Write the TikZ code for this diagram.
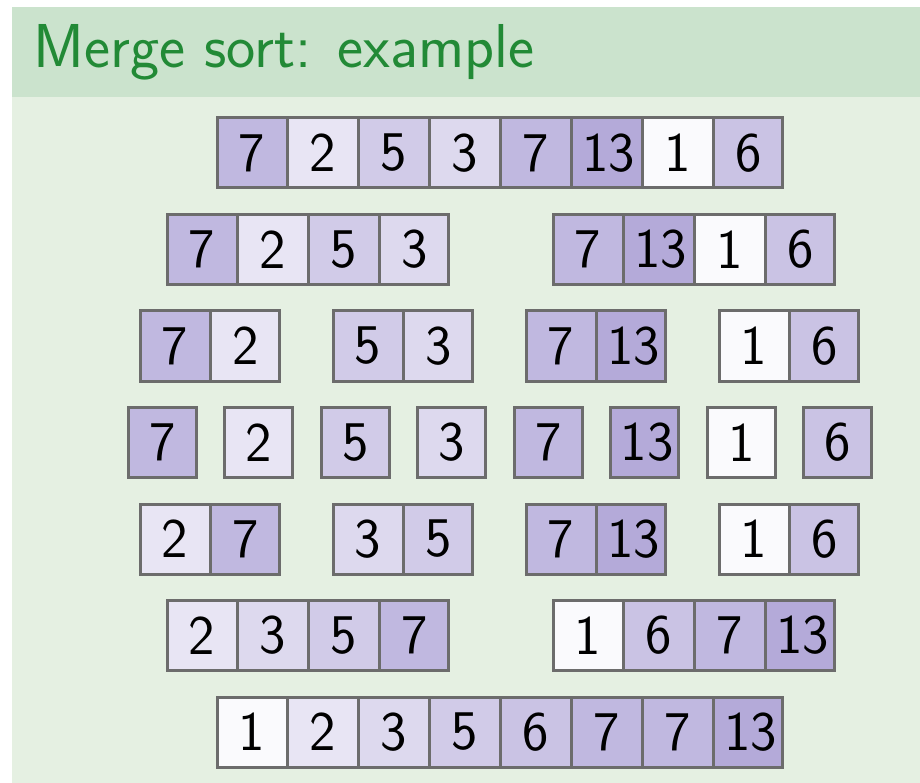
\documentclass[tikz,border=0pt]{standalone}
\usetikzlibrary{shapes.multipart}
\definecolor{bandgreen}{RGB}{203,227,205}
\definecolor{bodygreen}{RGB}{229,240,226}
\definecolor{titlegreen}{RGB}{34,138,54}
\definecolor{edgegray}{RGB}{108,108,108}
\definecolor{vone}{RGB}{250,250,253}
\definecolor{vtwo}{RGB}{232,229,244}
\definecolor{vthree}{RGB}{221,217,238}
\definecolor{vfive}{RGB}{209,203,232}
\definecolor{vsix}{RGB}{202,195,228}
\definecolor{vseven}{RGB}{192,184,224}
\definecolor{vthirteen}{RGB}{180,170,217}
\begin{document}
\begin{tikzpicture}[x=1pt,y=-1pt,
    stack/.style={rectangle split, rectangle split horizontal, rectangle split parts=#1, draw=edgegray, line width=3pt, text width=48pt, align=center, inner xsep=10pt, inner ysep=0pt, minimum height=70pt, anchor=center, font=\sffamily\fontsize{56}{60}\selectfont}, node distance=96.5pt
	]
		\useasboundingbox (0,0) rectangle (920,783);
		\fill[white] (0,0) rectangle (920,783);
		\fill[bandgreen] (12,7) rectangle (920,97);
		\fill[bodygreen] (12,97) rectangle (920,783);
		\node[anchor=base west, text=titlegreen, font=\sffamily\fontsize{62}{70}\selectfont] (title) at (30,68) {Merge sort: example};

		\node[stack=8, rectangle split part fill={vseven,vtwo,vfive,vthree,vseven,vthirteen,vone,vsix}] (A) at (500,153) {
			\nodepart{one}7
			\nodepart{two}2
			\nodepart{three}5
			\nodepart{four}3
			\nodepart{five}7
			\nodepart{six}13
			\nodepart{seven}1
			\nodepart{eight}6
		};

		\node[stack=4, rectangle split part fill={vseven,vtwo,vfive,vthree}] (B) at (308,249.5) {
			\nodepart{one}7
			\nodepart{two}2
			\nodepart{three}5
			\nodepart{four}3
		};
		\node[stack=4, node distance=386pt, right of=B, rectangle split part fill={vseven,vthirteen,vone,vsix}] (C) {
			\nodepart{one}7
			\nodepart{two}13
			\nodepart{three}1
			\nodepart{four}6
		};

		\node[stack=2, rectangle split part fill={vseven,vtwo}] (D) at (210,346) {
			\nodepart{one}7
			\nodepart{two}2
		};
		\node[stack=2, node distance=193pt, right of=D, rectangle split part fill={vfive,vthree}] (E) {
			\nodepart{one}5
			\nodepart{two}3
		};
		\node[stack=2, node distance=193pt, right of=E, rectangle split part fill={vseven,vthirteen}] (F) {
			\nodepart{one}7
			\nodepart{two}13
		};
		\node[stack=2, node distance=193pt, right of=F, rectangle split part fill={vone,vsix}] (G) {
			\nodepart{one}1
			\nodepart{two}6
		};

		\node[stack=1, fill=vseven] (H) at (162.25,442.5) {7};
		\node[stack=1, right of=H, fill=vtwo] (I) {2};
		\node[stack=1, right of=I, fill=vfive] (J) {5};
		\node[stack=1, right of=J, fill=vthree] (K) {3};
		\node[stack=1, right of=K, fill=vseven] (L) {7};
		\node[stack=1, right of=L, fill=vthirteen] (M) {13};
		\node[stack=1, right of=M, fill=vone] (N) {1};
		\node[stack=1, right of=N, fill=vsix] (O) {6};

		\node[stack=2, rectangle split part fill={vtwo,vseven}] (P) at (210,539) {
			\nodepart{one}2
			\nodepart{two}7
		};
		\node[stack=2, node distance=193pt, right of=P, rectangle split part fill={vthree,vfive}] (Q) {
			\nodepart{one}3
			\nodepart{two}5
		};
		\node[stack=2, node distance=193pt, right of=Q, rectangle split part fill={vseven,vthirteen}] (R) {
			\nodepart{one}7
			\nodepart{two}13
		};
		\node[stack=2, node distance=193pt, right of=R, rectangle split part fill={vone,vsix}] (S) {
			\nodepart{one}1
			\nodepart{two}6
		};

		\node[stack=4, rectangle split part fill={vtwo,vthree,vfive,vseven}] (T) at (308,635.5) {
			\nodepart{one}2
			\nodepart{two}3
			\nodepart{three}5
			\nodepart{four}7
		};
		\node[stack=4, node distance=386pt, right of=T, rectangle split part fill={vone,vsix,vseven,vthirteen}] (U) {
			\nodepart{one}1
			\nodepart{two}6
			\nodepart{three}7
			\nodepart{four}13
		};

		\node[stack=8, rectangle split part fill={vone,vtwo,vthree,vfive,vsix,vseven,vseven,vthirteen}] (V) at (500,732) {
			\nodepart{one}1
			\nodepart{two}2
			\nodepart{three}3
			\nodepart{four}5
			\nodepart{five}6
			\nodepart{six}7
			\nodepart{seven}7
			\nodepart{eight}13
		};

	\end{tikzpicture}
\end{document}
